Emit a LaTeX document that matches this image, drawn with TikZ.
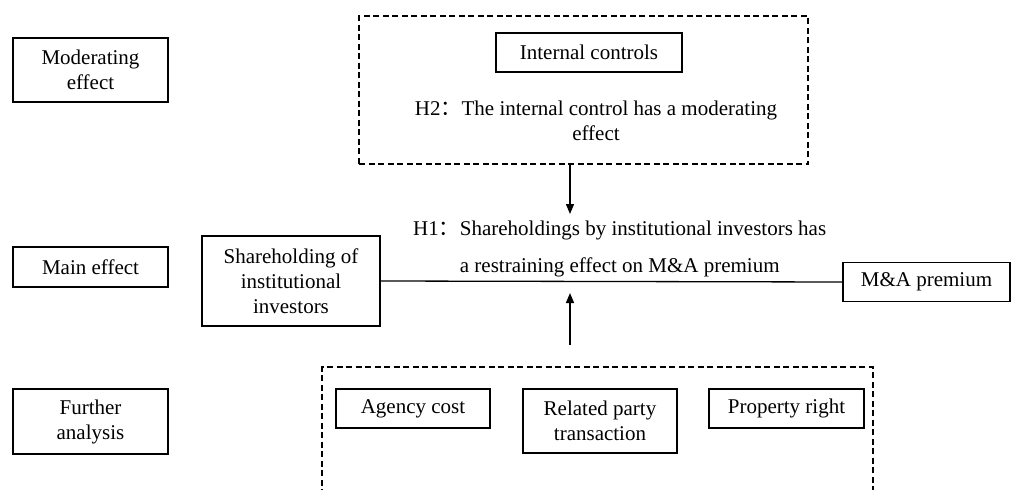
\documentclass[tikz,border=0pt]{standalone}
\usepackage{fontspec}
\setmainfont{Liberation Serif}
\newfontfamily\cjk{Noto Sans CJK SC}
\usetikzlibrary{arrows.meta}
\begin{document}
\begin{tikzpicture}[x=1pt,y=-1pt,
  every node/.style={font=\fontsize{21}{25}\selectfont},
  labelbox/.style={draw,line width=2.6pt,inner sep=0pt,align=center,minimum width=155pt},
  thinbox/.style={draw,line width=1.3pt,inner sep=0pt,align=center},
  dashbox/.style={draw,line width=1.3pt,dash pattern=on 6pt off 3.5pt},
  arr/.style={line width=1.3pt,-{Triangle[length=10pt,width=8pt]}}]
\fill[white] (0,0) rectangle (1013,490);
\useasboundingbox (0,0) rectangle (1013,490);
% left labels
\node[labelbox,minimum height=64pt] (mod) at (90.5,70) {Moderating\\effect};
\node[labelbox,minimum height=40pt] (main) at (90.5,267) {Main effect};
\node[labelbox,minimum height=65pt] (fur) at (90.5,421.5) {Further\\analysis};
% top dashed group
\node[dashbox,minimum width=449pt,minimum height=148pt,inner sep=0pt] (top) at (583.5,90) {};
\node[thinbox,minimum width=186pt,minimum height=39pt] (ic) at (589,52.5) {Internal controls};
\node[align=center,inner sep=0pt] (h2) at (596,120.5) {H2{\cjk ：}The internal control has a moderating\\effect};
% main effect
\node[thinbox,minimum width=178pt,minimum height=90pt] (sh) at (291,281) {Shareholding of\\institutional\\investors};
\node[thinbox,minimum width=167pt,minimum height=39pt] (ma) at (926.5,282) {M\&A premium};
\draw[line width=1.3pt] (sh.east) -- (ma.west);
\node[align=left,anchor=west,inner sep=0pt,font=\fontsize{21}{37}\selectfont] (h1) at (413,248.5)
  {H1{\cjk ：}Shareholdings by institutional investors has\\\phantom{H1{\cjk ：}}a restraining effect on M\&A premium};
% arrows
\coordinate (a1) at (570,214);
\coordinate (a2) at (570,293);
\coordinate (b1) at (570,345);
\draw[arr] (top.south -| a1) -- (a1);
\draw[arr] (b1) -- (a2);
% bottom dashed group (open at bottom)
\coordinate (bl) at (322,495);
\coordinate (tl) at (322,367);
\coordinate (tr) at (873,367);
\coordinate (br) at (873,495);
\draw[dashbox] (bl) -- (tl) -- (tr) -- (br);
\node[thinbox,minimum width=154pt,minimum height=39pt] (ac) at (413,408.5) {Agency cost};
\node[thinbox,minimum width=154pt,minimum height=64pt] (rp) at (600,421) {Related party\\transaction};
\node[thinbox,minimum width=155pt,minimum height=39pt] (pr) at (786.5,408.5) {Property right};
\end{tikzpicture}
\end{document}
